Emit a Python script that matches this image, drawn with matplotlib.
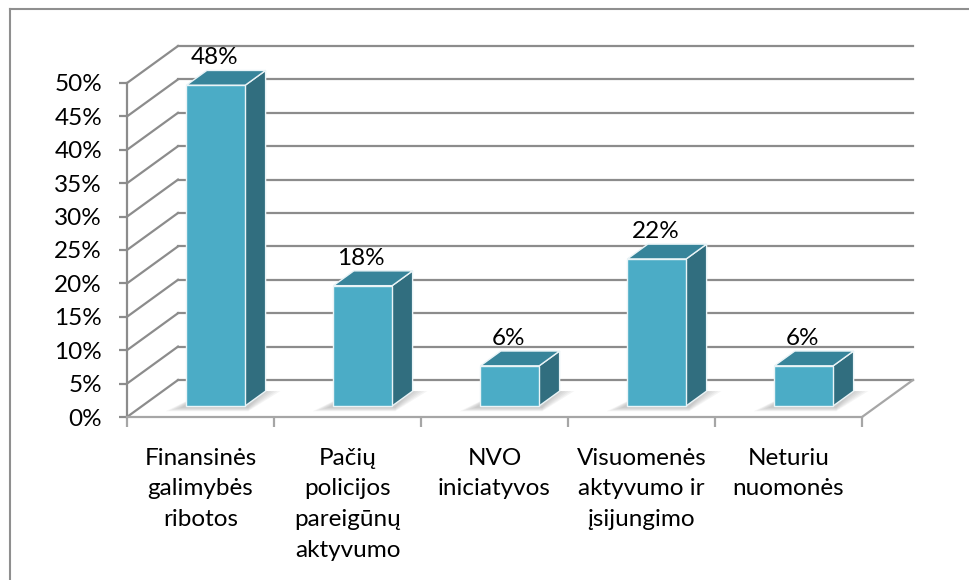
import matplotlib.pyplot as plt
from matplotlib.patches import Polygon
from matplotlib.lines import Line2D
from matplotlib.ticker import FixedLocator, PercentFormatter

plt.rcParams['font.family'] = ['Lato', 'DejaVu Sans']

categories = ['Finansinės\ngalimybės\nribotos', 'Pačių\npolicijos\npareigūnų\naktyvumo',
              'NVO\niniciatyvos', 'Visuomenės\naktyvumo ir\nįsijungimo', 'Neturiu\nnuomonės']
values = [48, 18, 6, 22, 6]
labels = ['48%', '18%', '6%', '22%', '6%']

W, H = 969, 580
fig = plt.figure(figsize=(W / 100, H / 100), dpi=100)

# front plane of the plot in pixels
left, right = 127, 862
bottom, top = 417, 83
ax = fig.add_axes([left / W, (H - bottom) / H, (right - left) / W, (bottom - top) / H])
ax.set_xlim(0, 5)
ax.set_ylim(0, 50)
ax.set_facecolor('none')

# depth offset of the back wall in data units
px_x = (right - left) / 5
px_y = (bottom - top) / 50
DX = 51 / px_x
DY = 37 / px_y

fs = 17.5
grid_c = '#8c8c8c'
for v in range(0, 55, 5):
    ax.plot([DX, 5 + DX], [v + DY, v + DY], color=grid_c, lw=1.6, clip_on=False, zorder=1)
    ax.plot([0, DX], [v, v + DY], color=grid_c, lw=1.6, clip_on=False, zorder=1)
ax.plot([5, 5 + DX], [0, DY], color='#a6a6a6', lw=1.6, clip_on=False, zorder=1)

# bars
bw = 0.4
d0, d1 = 0.3, 0.7
dd = d1 - d0
front_c, side_c, top_c = '#4bacc6', '#316e7f', '#37849a'
for i, v in enumerate(values):
    c = i + 0.5
    x0 = c - bw / 2 + d0 * DX
    x1 = c + bw / 2 + d0 * DX
    y0 = d0 * DY
    # soft floor shadow
    for k in range(6):
        g = 0.02 * k
        ax.add_patch(Polygon([(x0 - 0.14 + g, y0 - 0.8 + 0.1 * k), (x1 + 0.02, y0 - 0.8 + 0.1 * k),
                              (x1 + dd * DX + 0.1 - g, y0 + dd * DY), (x0 + dd * DX, y0 + dd * DY)],
                             closed=True, fc='#7f7f7f', ec='none', alpha=0.08,
                             clip_on=False, zorder=2))
    ax.add_patch(Polygon([(x1, y0), (x1 + dd * DX, y0 + dd * DY),
                          (x1 + dd * DX, y0 + v + dd * DY), (x1, y0 + v)],
                         closed=True, fc=side_c, ec='#eaf4f7', lw=1, clip_on=False, zorder=3))
    ax.add_patch(Polygon([(x0, y0 + v), (x1, y0 + v), (x1 + dd * DX, y0 + v + dd * DY),
                          (x0 + dd * DX, y0 + v + dd * DY)],
                         closed=True, fc=top_c, ec='#eaf4f7', lw=1, clip_on=False, zorder=3))
    ax.add_patch(Polygon([(x0, y0), (x1, y0), (x1, y0 + v), (x0, y0 + v)],
                         closed=True, fc=front_c, ec='#eaf4f7', lw=1, clip_on=False, zorder=4))
    ax.text(c + d0 * DX - 0.01, y0 + v + dd * DY + 0.3, labels[i], ha='center', va='bottom',
            fontsize=fs, color='black', zorder=5)

# axes
for s in ['top', 'right']:
    ax.spines[s].set_visible(False)
ax.spines['left'].set_color(grid_c)
ax.spines['left'].set_linewidth(1.6)
ax.spines['bottom'].set_color('#a6a6a6')
ax.spines['bottom'].set_linewidth(1.6)
ax.set_yticks(range(0, 55, 5))
ax.yaxis.set_major_formatter(PercentFormatter(decimals=0))
ax.tick_params(axis='y', length=6, width=1.6, color=grid_c, pad=12, labelsize=fs)
ax.xaxis.set_major_locator(FixedLocator(range(6)))
ax.xaxis.set_minor_locator(FixedLocator([i + 0.5 for i in range(5)]))
ax.set_xticklabels([''] * 6)
ax.set_xticklabels(categories, minor=True, linespacing=1.58)
ax.tick_params(axis='x', which='major', length=7, width=1.6, color='#a6a6a6')
ax.tick_params(axis='x', which='minor', length=0, pad=22, labelsize=fs)

# outer chart border (only left and top visible)
fig.add_artist(Line2D([9.5 / W, 9.5 / W], [0, 1 - 8.5 / H], color='#8f8f8f', lw=1.5))
fig.add_artist(Line2D([9.5 / W, 1], [1 - 8.5 / H, 1 - 8.5 / H], color='#8f8f8f', lw=1.5))

fig.savefig('out.png', dpi=100)
